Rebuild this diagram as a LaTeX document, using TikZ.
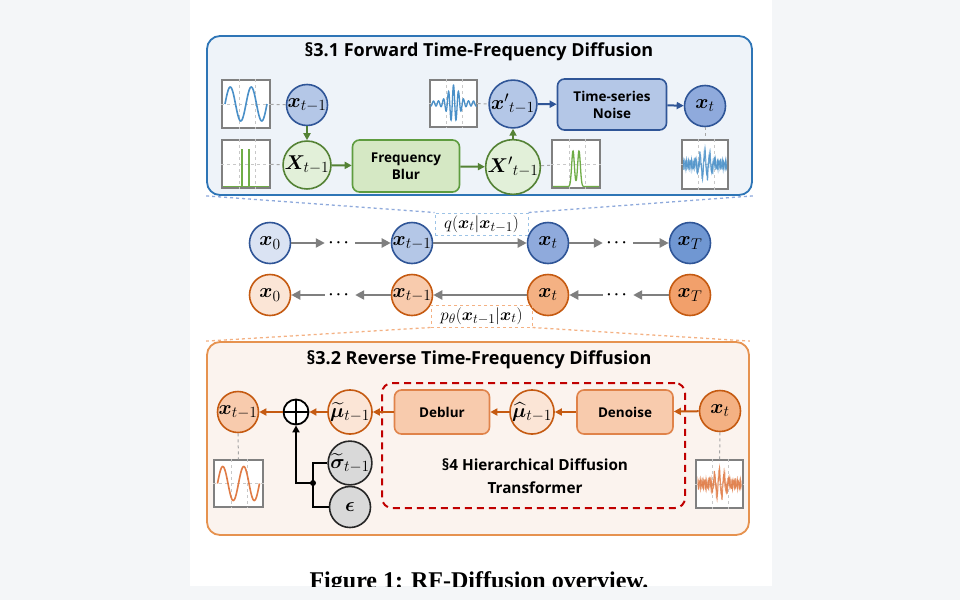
\RequirePackage{fix-cm}
\documentclass[tikz,border=0pt]{standalone}
\usepackage{amsmath,bm}
\usepackage{fontspec}
\setsansfont{Open Sans}
\newfontfamily\capfont{Liberation Serif}
\DeclareMathSizes{20}{20}{15.5}{11}
\DeclareMathSizes{17}{17}{13.5}{10}
\usetikzlibrary{arrows.meta,calc}
\definecolor{bgc}{HTML}{F4F6F8}
\definecolor{blueD}{HTML}{2F5597}
\definecolor{blueM}{HTML}{2E75B6}
\definecolor{panelBf}{HTML}{EEF3F9}
\definecolor{bl0}{HTML}{DAE3F3}
\definecolor{bl1}{HTML}{B4C7E7}
\definecolor{bl2}{HTML}{8FAADC}
\definecolor{bl3}{HTML}{7097D2}
\definecolor{greenD}{HTML}{548235}
\definecolor{greenL}{HTML}{E2F0D9}
\definecolor{greenBox}{HTML}{D5E8C4}
\definecolor{greenBoxB}{HTML}{5E9C3F}
\definecolor{greenP}{HTML}{70AD47}
\definecolor{orD}{HTML}{C55A11}
\definecolor{or0}{HTML}{FBE5D6}
\definecolor{or1}{HTML}{F8CBAD}
\definecolor{or2}{HTML}{F4B183}
\definecolor{or3}{HTML}{F2A06B}
\definecolor{panelO}{HTML}{E6924F}
\definecolor{panelOf}{HTML}{FBF3EE}
\definecolor{boxO}{HTML}{E0834A}
\definecolor{redD}{HTML}{C00000}
\definecolor{grayA}{HTML}{7F7F7F}
\definecolor{gridc}{HTML}{C8C8C8}
\definecolor{dashg}{HTML}{A6A6A6}
\definecolor{qdash}{HTML}{9DC3E6}
\definecolor{sineB}{HTML}{4A90C8}
\definecolor{sineO}{HTML}{E07B45}
\newcommand{\plotgrid}[1]{\draw[gridc,dashed,line width=0.7] ([xshift=-7pt]#1.north) -- ([xshift=-7pt]#1.south) ([xshift=9pt]#1.north) -- ([xshift=9pt]#1.south) (#1.west) -- (#1.east);}
\tikzset{
  circ/.style={circle,line width=1.6,minimum size=41,inner sep=0,font=\fontsize{20}{22}\selectfont},
  bcirc/.style={circ,draw=blueD,fill=#1},
  gcirc/.style={circ,draw=greenD,fill=greenL},
  ocirc/.style={circ,draw=orD,fill=#1},
  gycirc/.style={circ,draw=black!85,fill=black!15},
  boxlab/.style={rounded corners=7,line width=1.6,align=center,inner sep=0,font=\sffamily\bfseries\fontsize{13.5}{17}\selectfont},
  plotbox/.style={draw=black!50,fill=white,line width=1.4,minimum width=48,minimum height=48,inner sep=0},
  dotsn/.style={minimum width=30,inner sep=0,font=\fontsize{15}{17}\selectfont},
  garr/.style={grayA,line width=2.2,-{Triangle[length=9,width=9]}},
  grarr/.style={greenD,line width=2,-{Triangle[length=7,width=7]}},
  blarr/.style={blueD,line width=2,-{Triangle[length=7,width=7]}},
  orarr/.style={orD,line width=2,-{Triangle[length=7,width=7]}},
  gdash/.style={dashg,dashed,line width=1},
  titlef/.style={font=\sffamily\bfseries\fontsize{18}{21}\selectfont},
}
\begin{document}
\begin{tikzpicture}[x=1pt,y=-1pt]
\useasboundingbox (0,0) rectangle (960,600);
\fill[bgc] (0,0) rectangle (960,600);
\fill[white] (190,0) rectangle (772,586);

% ---------- top panel ----------
\node[draw=blueM,fill=panelBf,line width=1.8,rounded corners=13,minimum width=545,minimum height=159,inner sep=0] (top) at (479.5,115.5) {};
\node[titlef] (t1) at (479,52) {§3.1 Forward Time-Frequency Diffusion};

\node[plotbox] (p1) at (246,104) {};
\node[plotbox] (p2) at (246,164) {};
\node[plotbox,minimum width=47,minimum height=47] (p3) at (453.5,103.5) {};
\node[plotbox] (p4) at (576,164) {};
\node[plotbox,minimum width=46,minimum height=49] (p5) at (705,164.5) {};
\plotgrid{p1}\plotgrid{p2}\plotgrid{p3}\plotgrid{p4}\plotgrid{p5}
\begin{scope}[shift={(p1.center)}]
\draw[sineB,line width=1.6] plot[domain=-21:21,samples=90,smooth] (\x,{-17*sin(\x*720/42)});
\end{scope}
\begin{scope}[shift={(p2.center)}]
\draw[greenP,line width=1.2] (-23,22.5) -- (23,22.5);
\draw[greenP,line width=1.8] (-4,22.5) -- (-4,-15) (3,22.5) -- (3,-15);
\end{scope}
\begin{scope}[shift={(p3.center)}]
\draw[sineB,line width=1.3] plot[domain=-23:23,samples=240,smooth] (\x,{-(16*exp(-(\x/7)^2)+2.5)*cos(\x*72)});
\end{scope}
\begin{scope}[shift={(p4.center)}]
\draw[greenP,line width=1.3] (-23,22.5) -- (-10,22.5) plot[domain=-10:10,samples=80,smooth] (\x,{22.5-35.5*(exp(-((\x+3)/1.9)^2)+exp(-((\x-3)/1.9)^2))}) -- (23,22.5);
\end{scope}
\begin{scope}[shift={(p5.center)}]
\clip (-22,-23) rectangle (22,23);
\draw[sineB,line width=0.8,opacity=0.8] plot[domain=-22:22,samples=300] (\x,{-(13*exp(-(\x/9)^2)*cos(\x*75)+3.5*sin(\x*211+20)+2.5*cos(\x*347))});
\draw[sineB,line width=0.8,opacity=0.6] plot[domain=-22:22,samples=300] (\x,{-(12*exp(-(\x/8)^2)*cos(\x*75+40)+3*sin(\x*263+70)+2.5*cos(\x*401))});
\end{scope}

\node[bcirc=bl1] (xa) at (307,105) {$\bm{x}_{t-1}$};
\node[gcirc] (Xa) at (307,165) {$\bm{X}_{t-1}$};
\node[boxlab,draw=greenBoxB,fill=greenBox,minimum width=107,minimum height=52] (fb) at (406,166) {Frequency\\Blur};
\node[bcirc=bl1] (xp) at (513,104) {${\bm{x}'}_{t-1}$};
\node[gcirc] (Xp) at (513,167) {${\bm{X}'}_{t-1}$};
\node[boxlab,draw=blueD,fill=bl1,minimum width=109,minimum height=51] (tn) at (612,104.5) {Time-series\\Noise};
\node[bcirc=bl2] (xt) at (705,106) {$\bm{x}_t$};

\draw[gdash] (p1) -- (xa);
\draw[gdash] (p2) -- (Xa);
\draw[gdash] (p3) -- (xp);
\draw[gdash] (Xp) -- (p4);
\draw[gdash] (xt) -- (p5);
\draw[grarr] (xa) -- (Xa);
\draw[grarr] (Xa) -- (fb);
\draw[grarr] (fb) -- (Xp);
\draw[grarr] (Xp) -- (xp);
\draw[blarr] (xp) -- (tn);
\draw[blarr] (tn) -- (xt);

% ---------- middle rows ----------
\node[bcirc=bl0] (m0) at (270,243) {$\bm{x}_0$};
\node[bcirc=bl1] (m1) at (412,243) {$\bm{x}_{t-1}$};
\node[bcirc=bl2] (m2) at (548,243) {$\bm{x}_t$};
\node[bcirc=bl3] (m3) at (690,243) {$\bm{x}_T$};
\node[dotsn] (d1) at (340,243) {$\bm{\cdots}$};
\node[dotsn] (d2) at (618,243) {$\bm{\cdots}$};
\draw[garr] (m0) -- (d1);
\draw[garr] (d1) -- (m1);
\draw[garr] (m1) -- (m2);
\draw[garr] (m2) -- (d2);
\draw[garr] (d2) -- (m3);
\node[draw=qdash,dashed,line width=1,minimum width=93,minimum height=22,inner sep=0,font=\fontsize{17}{19}\selectfont] (q) at (481.5,224) {$q(\bm{x}_t|\bm{x}_{t-1})$};
\draw[bl2,dashed,line width=1.3] (top.south west) -- (q.north west);
\draw[bl2,dashed,line width=1.3] (top.south east) -- (q.north east);

\node[ocirc=or0] (n0) at (270,295) {$\bm{x}_0$};
\node[ocirc=or1] (n1) at (412,295) {$\bm{x}_{t-1}$};
\node[ocirc=or2] (n2) at (548,295) {$\bm{x}_t$};
\node[ocirc=or3] (n3) at (690,295) {$\bm{x}_T$};
\node[dotsn] (e1) at (340,295) {$\bm{\cdots}$};
\node[dotsn] (e2) at (618,295) {$\bm{\cdots}$};
\draw[garr] (n3) -- (e2);
\draw[garr] (e2) -- (n2);
\draw[garr] (n2) -- (n1);
\draw[garr] (n1) -- (e1);
\draw[garr] (e1) -- (n0);

% ---------- bottom panel ----------
\node[draw=panelO,fill=panelOf,line width=1.8,rounded corners=13,minimum width=542,minimum height=193,inner sep=0] (bot) at (478,438.5) {};
\node[draw=or2,dashed,line width=1,minimum width=101,minimum height=22,inner sep=0,font=\fontsize{17}{19}\selectfont] (pl) at (481.5,316) {$p_\theta(\bm{x}_{t-1}|\bm{x}_t)$};
\draw[or2,dashed,line width=1.3] (pl.south west) -- (bot.north west);
\draw[or2,dashed,line width=1.3] (pl.south east) -- (bot.north east);
\node[titlef] (t2) at (479,360) {§3.2 Reverse Time-Frequency Diffusion};

\node[draw=redD,dashed,dash pattern=on 7pt off 5pt,line width=2,rounded corners=10,minimum width=303,minimum height=125,inner sep=0] (hd) at (533.5,445.5) {};
\node[align=center,font=\sffamily\bfseries\fontsize{15.3}{23.5}\selectfont] (hdt) at (535,476) {§4 Hierarchical Diffusion\\Transformer};

\node[boxlab,draw=boxO,fill=or1,minimum width=95,minimum height=44] (db) at (442,412) {Deblur};
\node[ocirc=or0] (mh) at (532,412) {$\widehat{\bm{\mu}}_{t-1}$};
\node[boxlab,draw=boxO,fill=or1,minimum width=96,minimum height=44] (dn) at (625,412) {Denoise};
\node[ocirc=or2] (xt2) at (720,411) {$\bm{x}_t$};
\node[ocirc=or0] (mt) at (350,412) {$\widetilde{\bm{\mu}}_{t-1}$};
\node[circle,draw=black,fill=white,line width=1.8,minimum size=25,inner sep=0,
  path picture={\draw[line width=1.8] (path picture bounding box.north) -- (path picture bounding box.south) (path picture bounding box.west) -- (path picture bounding box.east);}] (op) at (296,412) {};
\node[ocirc=or1] (xb) at (238,412) {$\bm{x}_{t-1}$};
\node[gycirc] (sg) at (350,463) {$\widetilde{\bm{\sigma}}_{t-1}$};
\node[gycirc] (ep) at (350,507) {$\bm{\epsilon}$};
\coordinate (j) at (313,483);

\node[plotbox,minimum width=49,minimum height=47] (p6) at (238.5,483.5) {};
\node[plotbox,minimum width=47,minimum height=48] (p7) at (719.5,484) {};
\plotgrid{p6}\plotgrid{p7}
\begin{scope}[shift={(p6.center)}]
\draw[sineO,line width=1.6] plot[domain=-21:21,samples=90,smooth] (\x,{-17*sin(\x*720/42)});
\end{scope}
\begin{scope}[shift={(p7.center)}]
\clip (-22,-23) rectangle (22,23);
\draw[sineO,line width=0.8,opacity=0.8] plot[domain=-22:22,samples=300] (\x,{-(13*exp(-(\x/9)^2)*cos(\x*75)+3.5*sin(\x*211+20)+2.5*cos(\x*347))});
\draw[sineO,line width=0.8,opacity=0.6] plot[domain=-22:22,samples=300] (\x,{-(12*exp(-(\x/8)^2)*cos(\x*75+40)+3*sin(\x*263+70)+2.5*cos(\x*401))});
\end{scope}
\draw[gdash] (xb) -- (p6);
\draw[gdash] (xt2) -- (p7);

\draw[orarr] (xt2) -- (dn);
\draw[orarr] (dn) -- (mh);
\draw[orarr] (mh) -- (db);
\draw[orarr] (db) -- (mt);
\draw[orarr] (mt) -- (op);
\draw[orarr] (op) -- (xb);
\draw[black,line width=1.8] (sg.west) -| (j) |- (ep.west);
\draw[black,line width=1.8,-{Triangle[length=7,width=7]}] (j) -| (op.south);
\fill (j) circle (3);

% ---------- caption ----------
\begin{scope}
\clip (190,0) rectangle (772,586);
\node[anchor=base,font=\capfont\bfseries\fontsize{24}{27}\selectfont] (cap) at (479,588) {Figure 1: RF-Diffusion overview.};
\end{scope}
\end{tikzpicture}
\end{document}
